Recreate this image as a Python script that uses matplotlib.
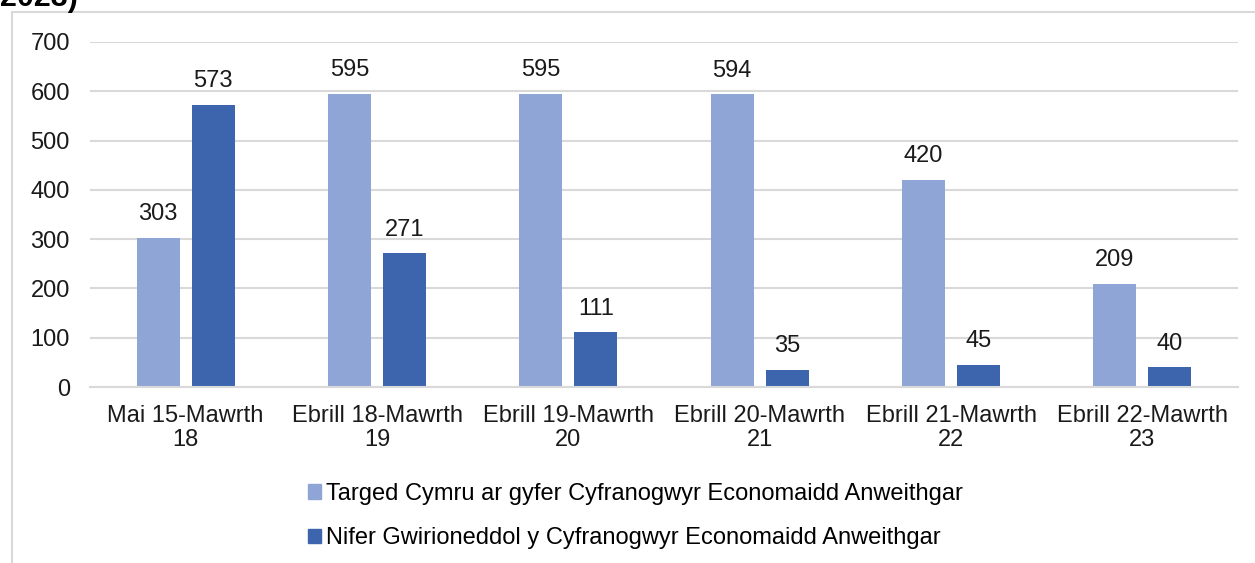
import matplotlib
matplotlib.use("Agg")
import matplotlib.pyplot as plt
import numpy as np
from matplotlib.lines import Line2D

plt.rcParams['font.family'] = ['Liberation Sans', 'DejaVu Sans']

categories = ["Mai 15-Mawrth\n18", "Ebrill 18-Mawrth\n19", "Ebrill 19-Mawrth\n20",
              "Ebrill 20-Mawrth\n21", "Ebrill 21-Mawrth\n22", "Ebrill 22-Mawrth\n23"]
target = [303, 595, 595, 594, 420, 209]
actual = [573, 271, 111, 35, 45, 40]
series_names = ["Targed Cymru ar gyfer Cyfranogwyr Economaidd Anweithgar",
                "Nifer Gwirioneddol y Cyfranogwyr Economaidd Anweithgar"]
yticks = [0, 100, 200, 300, 400, 500, 600, 700]

c_light = "#8FA5D6"
c_dark = "#3C65AE"
grid_c = "#d9d9d9"
txt_c = "#1a1a1a"
FS = 17

W, H = 1255, 563
fig = plt.figure(figsize=(W / 100, H / 100), dpi=100)
ax = fig.add_axes([90 / W, 1 - 387 / H, (1238 - 90) / W, (387 - 42) / H])

x = np.arange(len(categories))
bw = 0.225
off = 0.144
b1 = ax.bar(x - off, target, bw, color=c_light, zorder=3)
b2 = ax.bar(x + off, actual, bw, color=c_dark, zorder=3)

for bars, vals in ((b1, target), (b2, actual)):
    for rect, v in zip(bars, vals):
        ax.annotate(str(v), (rect.get_x() + rect.get_width() / 2, v),
                    xytext=(0, 9), textcoords="offset points",
                    ha="center", va="bottom", fontsize=FS, color=txt_c)

ax.set_xlim(-0.5, len(categories) - 0.5)
ax.set_ylim(0, 700)
ax.set_yticks(yticks)
ax.set_yticklabels([str(t) for t in yticks], fontsize=FS, color=txt_c)
ax.set_xticks(x)
ax.set_xticklabels(categories, fontsize=FS, color=txt_c, linespacing=1.1)
ax.tick_params(axis="both", length=0)
ax.tick_params(axis="y", pad=14.5)
ax.tick_params(axis="x", pad=13)
ax.grid(axis="y", color=grid_c, linewidth=1.5, zorder=0)
for s in ["top", "right", "left"]:
    ax.spines[s].set_visible(False)
ax.spines["bottom"].set_color(grid_c)
ax.spines["bottom"].set_linewidth(1.5)
ax.spines["bottom"].set_zorder(4)

handles = [plt.Rectangle((0, 0), 1, 1, color=c_light), plt.Rectangle((0, 0), 1, 1, color=c_dark)]
fig.legend(handles, series_names, loc="center left", bbox_to_anchor=(296 / W, 1 - 516 / H),
           frameon=False, fontsize=FS, handlelength=0.55, handleheight=0.55,
           handletextpad=0.2, labelspacing=0.95, borderpad=0)

# chart frame lines
fig.add_artist(Line2D([12 / W, 12 / W], [0, 1 - 12 / H], color=grid_c, linewidth=1.5,
                      transform=fig.transFigure))
fig.add_artist(Line2D([12 / W, 1], [1 - 12 / H, 1 - 12 / H], color=grid_c, linewidth=1.5,
                      transform=fig.transFigure))

fig.text(0 / W, 1 - 13 / H, "2023)", fontsize=22, fontweight="bold", ha="left", va="bottom")

fig.savefig("out.png", dpi=100)
